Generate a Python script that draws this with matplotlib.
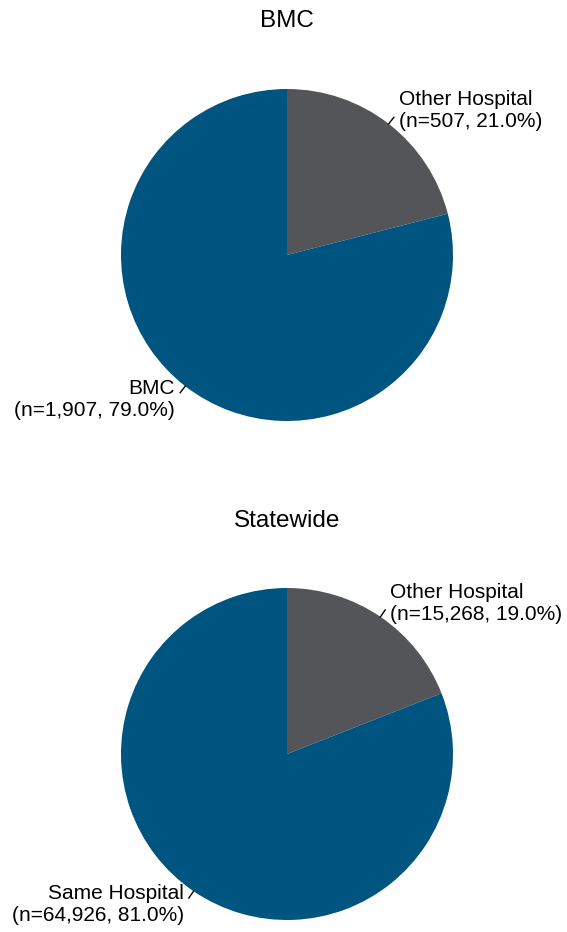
import numpy as np
import matplotlib.pyplot as plt

plt.rcParams['font.family'] = ['Liberation Sans', 'DejaVu Sans']

titles = ["BMC", "Statewide"]
labels_bmc = ["Other Hospital", "BMC"]
counts_bmc = [507, 1907]
labels_state = ["Other Hospital", "Same Hospital"]
counts_state = [15268, 64926]
colors = ["#545559", "#005480"]

W, H = 567, 932
R = 166.0  # pie radius in pixels
centers = [(287, 255), (287, 754)]
title_base = [27, 527]

fig = plt.figure(figsize=(W / 100, H / 100), dpi=100)

panels = [(labels_bmc, counts_bmc), (labels_state, counts_state)]
for i, (labels, counts) in enumerate(panels):
    cx, cy = centers[i]
    ax = fig.add_axes([0, 0, 1, 1])
    ax.pie(counts, colors=colors, startangle=90, counterclock=False,
           radius=1, wedgeprops=dict(linewidth=0))
    ax.set_xlim(-cx / R, (W - cx) / R)
    ax.set_ylim(-(H - cy) / R, cy / R)
    ax.axis("off")
    ax.patch.set_alpha(0)

    total = sum(counts)
    start = 90.0
    for lab, n in zip(labels, counts):
        frac = n / total
        mid = np.radians(start - frac * 360 / 2)
        start -= frac * 360
        c, s = np.cos(mid), np.sin(mid)
        ax.plot([1.0 * c, 1.05 * c], [1.0 * s, 1.05 * s], color="black", lw=1)
        txt = lab + "\n(n=" + format(n, ",") + ", " + str(round(frac * 100, 1)) + "%)"
        ax.text(1.1 * c, 1.1 * s, txt, ha="left" if c > 0 else "right",
                va="center", fontsize=15, multialignment="left" if c > 0 else "right",
                linespacing=1.2)

    fig.text(cx / W, 1 - title_base[i] / H, titles[i], ha="center",
             va="baseline", fontsize=17.5)

fig.savefig("out.png", dpi=100)
